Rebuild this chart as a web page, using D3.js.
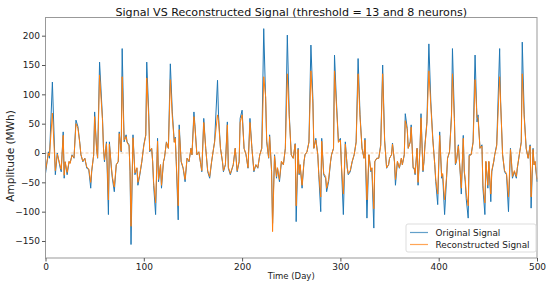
<!DOCTYPE html>
<html>
<head>
<meta charset="utf-8">
<script src="https://cdn.jsdelivr.net/npm/d3@7"></script>
<style>
  body { margin: 0; background: #fff; }
  svg { display: block; font-family: 'DejaVu Sans', sans-serif; }
</style>
</head>
<body>
<svg id="chart" width="550" height="284"></svg>
<script>
// values
const days = [0, 3, 4, 7, 10, 12, 15, 16, 18, 19, 20, 22, 24, 25, 27, 29, 31, 33, 35, 36, 38, 40, 42, 44, 46, 47, 49, 50, 52, 53,
  55, 58, 59, 60, 62, 64, 65, 67, 68, 70, 72, 74, 75, 77, 78, 80, 82, 83, 85, 86, 87, 89, 91, 93, 94, 96, 98, 100, 102, 103,
  105, 106, 108, 109, 110, 112, 114, 115, 117, 118, 120, 121, 123, 125, 127, 129, 131, 132, 133, 135, 136, 138, 140, 142, 144, 146, 148, 149, 151, 152,
  154, 156, 158, 159, 161, 163, 165, 167, 169, 171, 172, 175, 176, 178, 180, 181, 183, 185, 186, 188, 190, 191, 193, 195, 197, 198, 200, 202, 204, 206,
  208, 210, 212, 214, 216, 218, 220, 222, 224, 225, 227, 228, 230, 231, 233, 235, 236, 238, 240, 242, 244, 246, 248, 250, 252, 254, 255, 257, 258, 259,
  261, 263, 264, 266, 268, 270, 272, 273, 275, 277, 278, 280, 281, 283, 285, 286, 288, 290, 291, 293, 294, 296, 298, 300, 301, 303, 305, 307, 308, 310,
  312, 314, 316, 318, 320, 322, 324, 325, 327, 329, 331, 332, 334, 335, 337, 339, 341, 343, 345, 347, 349, 350, 352, 353, 355, 356, 358, 360, 362, 363,
  365, 366, 368, 369, 371, 372, 374, 375, 376, 378, 379, 381, 382, 384, 385, 386, 388, 390, 392, 394, 396, 397, 399, 401, 403, 404, 406, 408, 409, 411,
  413, 414, 416, 417, 418, 420, 422, 423, 425, 426, 427, 428, 430, 431, 433, 435, 437, 439, 440, 442, 444, 445, 447, 448, 450, 451, 453, 454, 456, 457,
  459, 462, 463, 465, 467, 469, 471, 473, 474, 475, 477, 479, 480, 482, 484, 485, 487, 489, 491, 493, 494, 496, 497, 498, 500]

const original = [-35, 2, -9, 121, -37, 0, -26, -32, 36, -43, -15, -37, -15, -17, -3, -9, 56, 45, 16, -3, -15, -9, -26, -28, -60, -32, -3, 70, 8, -9,
  155, 59, 8, -15, 19, -105, 19, -26, -43, -66, -20, -15, 36, 2, 178, 19, 31, 19, 14, -32, -156, 31, -37, -26, -55, -37, -15, 14, 31, 155,
  70, 2, 8, -15, -55, -105, 25, -49, -20, -60, -15, -9, 19, 8, 152, 70, 19, 27, -15, -114, 48, -15, -26, -49, -9, -15, 8, -3, 70, 48,
  -3, 2, -20, -32, 59, 8, -32, -43, -15, 8, 19, 124, 65, 8, -15, -32, -20, 53, -26, -37, -26, -20, 8, -32, -15, 59, 73, 8, -3, -26,
  59, 8, -32, -20, -26, -3, 8, 212, 87, 19, -9, 31, -32, -120, -3, -43, -26, -49, -15, -20, 8, 201, 65, -3, -9, 16, -117, 8, -37, -20,
  -60, -15, -3, 2, 19, 184, 93, 8, 25, -3, -37, -100, 25, -37, -43, -66, -49, -15, -3, 8, 167, 87, 19, 25, -20, -105, 19, -26, -37, -32,
  -15, -3, 19, 161, 65, 8, -9, 25, -111, -3, -32, -26, -128, -15, -9, -9, 14, 150, 22, -26, -20, -9, -3, 17, -15, -55, -15, -26, -9, -20,
  -3, 67, 42, 8, 19, 48, -26, -26, -37, 8, -55, 8, 67, -32, -15, 14, 53, 186, 87, 25, -20, -49, -88, 36, -43, -37, -105, -43, -9, 2,
  65, 178, 59, -20, -15, 14, -37, -70, 30, -32, -49, -78, -111, -3, -3, 19, 167, 53, 65, 8, 14, -60, -105, -15, -60, -15, -83, -32, -15, -3,
  14, 178, 87, -3, -32, -37, -100, 8, -15, -43, -32, -43, -26, -3, 19, 189, 65, 8, -9, 14, -94, 8, -20, -15, -49]

const reconstructed = [-30, 0, -5, 68, -30, -2, -22, -28, 30, -38, -15, -33, -14, -18, -4, -8, 50, 42, 15, -2, -14, -9, -24, -27, -50, -30, -4, 62, 6, -8,
  133, 55, 8, -12, 16, -80, 15, -24, -40, -58, -20, -14, 33, 3, 130, 22, 28, 18, 12, -30, -125, 26, -34, -25, -50, -35, -14, 12, 30, 128,
  62, 4, 8, -14, -50, -85, 20, -45, -20, -55, -15, -8, 18, 8, 125, 62, 18, 25, -14, -90, 40, -14, -25, -45, -9, -14, 8, -3, 62, 45,
  -3, 2, -20, -30, 52, 8, -30, -40, -14, 8, 18, 65, 55, 8, -14, -30, -20, 48, -24, -35, -25, -20, 8, -30, -14, 52, 65, 8, -3, -25,
  52, 8, -30, -20, -25, -3, 8, 130, 95, 22, -8, 28, -30, -134, -5, -40, -25, -45, -14, -20, 8, 135, 60, -3, -9, 15, -90, 6, -35, -20,
  -55, -14, -3, 2, 18, 140, 85, 8, 22, -3, -35, -75, 20, -35, -40, -60, -45, -14, -3, 8, 140, 80, 18, 22, -20, -70, 15, -25, -35, -30,
  -14, -3, 18, 135, 60, 8, -9, 22, -80, -3, -30, -25, -95, -14, -9, -9, 12, 135, 20, -25, -20, -9, -3, 15, -14, -45, -14, -25, -9, -20,
  -3, 55, 40, 8, 18, 44, -25, -25, -35, 8, -50, 8, 60, -30, -14, 12, 50, 140, 80, 22, -20, -45, -70, 30, -40, -35, -80, -40, -9, 2,
  60, 135, 55, -18, -14, 12, -35, -60, 25, -30, -45, -68, -90, -5, -3, 18, 125, 60, 60, 8, 12, -55, -85, -14, -55, -14, -70, -30, -14, -3,
  12, 130, 85, -3, -30, -35, -75, 6, -14, -40, -30, -40, -25, -3, 18, 135, 60, 8, -9, 12, -75, 6, -20, -14, -45]

const xTicks = [0, 100, 200, 300, 400, 500]
const yTicks = [-150, -100, -50, 0, 50, 100, 150, 200]
const seriesNames = ['Original Signal', 'Reconstructed Signal']
const seriesColors = ['#1f77b4', '#ff7f0e']

const width = 550
const height = 284
const margin = { top: 17.5, right: 13, bottom: 26, left: 45.5 }

const svg = d3.select('#chart')

const x = d3.scaleLinear().domain([0, 500]).range([margin.left, width - margin.right])
const y = d3.scaleLinear().domain([-179, 231]).range([height - margin.bottom, margin.top])

// zero reference line
svg.append('line')
  .attr('x1', x(0)).attr('x2', x(500))
  .attr('y1', y(0)).attr('y2', y(0))
  .attr('stroke', '#f5c9a0')
  .attr('stroke-width', 1)
  .attr('stroke-dasharray', '3,2')

const line = d3.line()
  .x(d => x(d[0]))
  .y(d => y(d[1]))

const series = [original, reconstructed]
series.forEach((vals, i) => {
  svg.append('path')
    .datum(days.map((d, j) => [d, vals[j]]))
    .attr('fill', 'none')
    .attr('stroke', seriesColors[i])
    .attr('stroke-width', 1)
    .attr('stroke-linejoin', 'round')
    .attr('d', line)
})

// frame
svg.append('rect')
  .attr('x', margin.left).attr('y', margin.top)
  .attr('width', width - margin.left - margin.right)
  .attr('height', height - margin.top - margin.bottom)
  .attr('fill', 'none')
  .attr('stroke', '#999')
  .attr('stroke-width', 1)

const xAxis = svg.append('g')
  .attr('transform', `translate(0,${height - margin.bottom})`)
  .call(d3.axisBottom(x).tickValues(xTicks).tickSize(3.5).tickPadding(2))
const yAxis = svg.append('g')
  .attr('transform', `translate(${margin.left},0)`)
  .call(d3.axisLeft(y).tickValues(yTicks).tickSize(3.5).tickPadding(2).tickFormat(d => d < 0 ? '\u2212' + Math.abs(d) : d))

for (const ax of [xAxis, yAxis]) {
  ax.select('.domain').remove()
  ax.selectAll('line').attr('stroke', '#555')
  ax.selectAll('text').attr('fill', '#222').style('font-size', '9px').style('font-family', 'DejaVu Sans')
}

svg.append('text')
  .attr('x', (margin.left + width - margin.right) / 2)
  .attr('y', 15.5)
  .attr('text-anchor', 'middle')
  .style('font-size', '11.1px')
  .attr('fill', '#111')
  .text('Signal VS Reconstructed Signal (threshold = 13 and 8 neurons)')

svg.append('text')
  .attr('x', (margin.left + width - margin.right) / 2)
  .attr('y', 279)
  .attr('text-anchor', 'middle')
  .style('font-size', '8.5px')
  .attr('fill', '#222')
  .text('Time (Day)')

svg.append('text')
  .attr('transform', `translate(14,${y(-5)}) rotate(-90)`)
  .attr('text-anchor', 'middle')
  .style('font-size', '10.5px')
  .attr('fill', '#222')
  .text('Amplitude (MWh)')

// legend
const lg = svg.append('g').attr('transform', 'translate(406,224)')
lg.append('rect')
  .attr('width', 130).attr('height', 28)
  .attr('rx', 2)
  .attr('fill', '#fff').attr('fill-opacity', 0.8)
  .attr('stroke', '#ddd')
seriesNames.forEach((name, i) => {
  const g = lg.append('g').attr('transform', `translate(4,${8.5 + i * 12})`)
  g.append('line').attr('x1', 0).attr('x2', 18)
    .attr('stroke', seriesColors[i]).attr('stroke-width', 1.2).attr('stroke-opacity', 0.7)
  g.append('text').attr('x', 25.5).attr('dy', '0.35em')
    .style('font-size', '8.9px').attr('fill', '#222')
    .text(name)
})
</script>
</body>
</html>
